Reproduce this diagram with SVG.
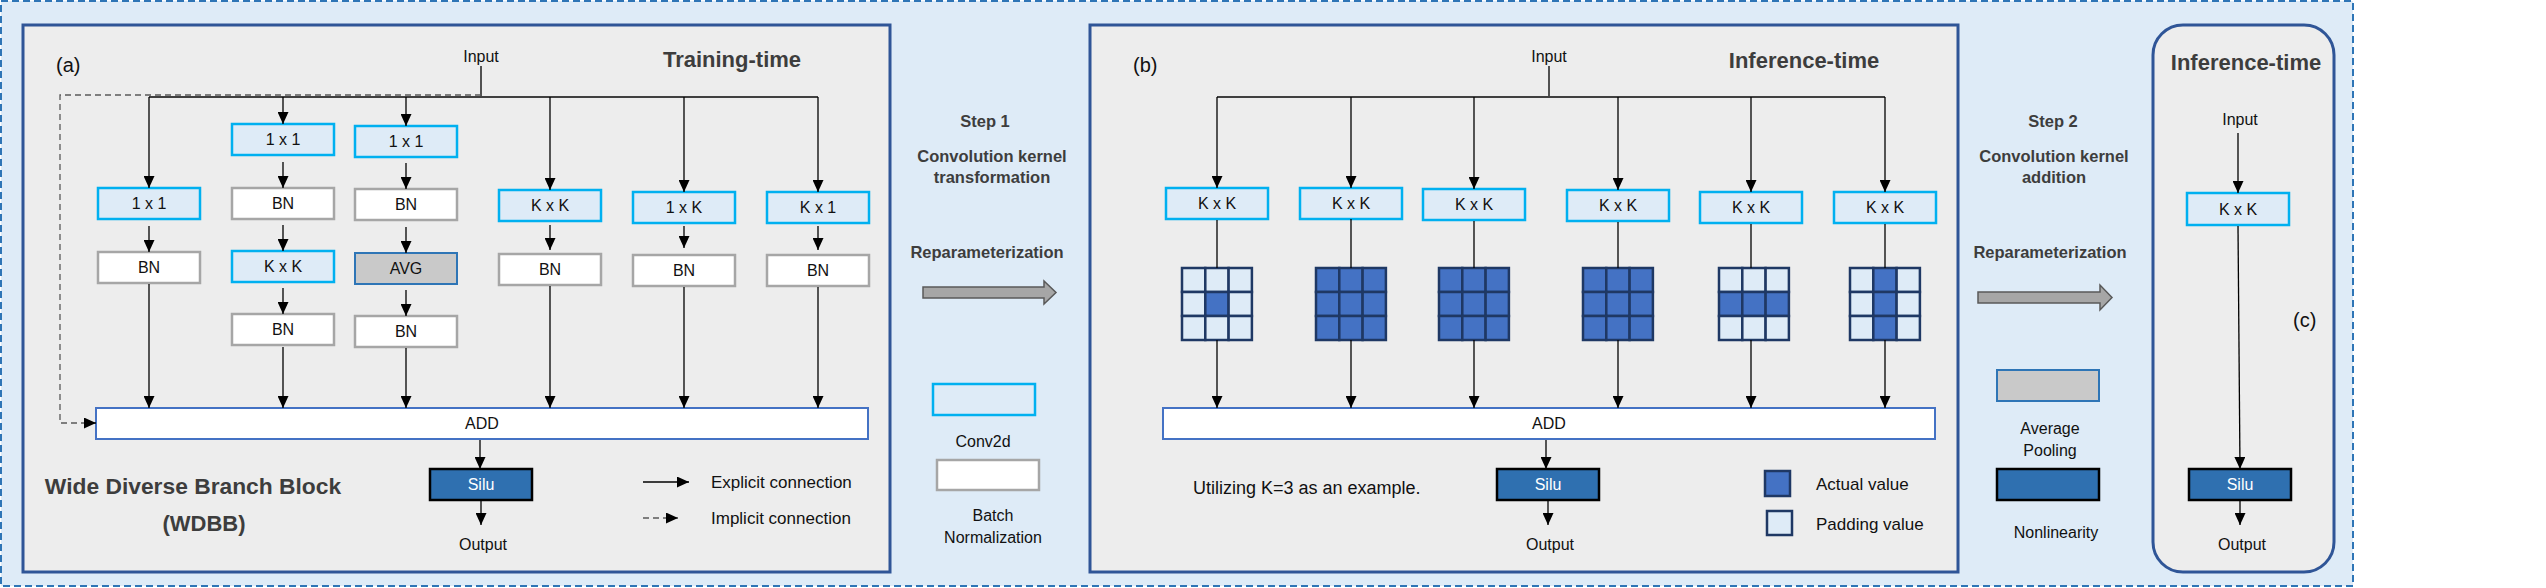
<svg xmlns="http://www.w3.org/2000/svg" width="2546" height="588" viewBox="0 0 2546 588">
<defs>
<marker id="ah" markerWidth="12" markerHeight="11" refX="12" refY="5.5" orient="auto" markerUnits="userSpaceOnUse" viewBox="0 0 12 11"><path d="M0,0 L12,5.5 L0,11 z" fill="#000"/></marker>
<style>
text{font-family:"Liberation Sans",Arial,sans-serif;fill:#111;}
.t{font-size:16px;text-anchor:middle;dominant-baseline:central;}
.n{font-size:16px;text-anchor:middle;}
.l{font-size:17px;}
.title{font-size:22px;font-weight:bold;fill:#3d3d3d;text-anchor:middle;}
.step{font-size:16.5px;font-weight:bold;fill:#3d3d3d;text-anchor:middle;}
.lab{font-size:20px;fill:#111;}
.panel{fill:#ededed;stroke:#2f5597;stroke-width:3;}
.conv{fill:#deebf7;stroke:#00b0f0;stroke-width:2.5;}
.bn{fill:#fff;stroke:#a6a6a6;stroke-width:2.5;}
.avg{fill:#c9c9c9;stroke:#2e75b6;stroke-width:2;}
.add{fill:#fff;stroke:#4472c4;stroke-width:2;}
.silu{fill:#2f70b0;stroke:#000;stroke-width:2.5;}
.silut{font-size:16px;fill:#fff;text-anchor:middle;dominant-baseline:central;}
.dk{fill:#4472c4;stroke:#1f3864;stroke-width:2.5;}
.lt{fill:#deebf7;stroke:#1f3864;stroke-width:2.5;}
.c{fill:none;stroke:#000;stroke-width:1.3;}
.ca{fill:none;stroke:#000;stroke-width:1.3;marker-end:url(#ah);}
.bus{fill:none;stroke:#404040;stroke-width:1.8;}
.dash{fill:none;stroke:#595959;stroke-width:1.3;stroke-dasharray:6 4;}
.garrow{fill:#a6a6a6;stroke:#595959;stroke-width:1.5;}
</style>
</defs>

<rect id="background" x="1" y="1" width="2352" height="585" fill="#deebf7" stroke="#2e75b6" stroke-width="2" stroke-dasharray="7 4"/>

<!-- Panel (a) -->
<g id="panel-a">
<rect class="panel" x="23" y="25" width="867" height="547"/>
<text class="lab" x="56" y="72">(a)</text>
<text class="title" x="732" y="67">Training-time</text>
<text class="n" x="481" y="62">Input</text>
<text class="title" x="193" y="494" style="font-size:22.8px">Wide Diverse Branch Block</text>
<text class="title" x="204" y="531">(WDBB)</text>
</g>

<g id="a-b1-conv"><rect class="conv" x="98" y="188" width="102" height="31"/><text class="t" x="149" y="203.5">1 x 1</text></g>
<g id="a-b1-bn"><rect class="bn" x="98" y="252" width="102" height="31"/><text class="t" x="149" y="267.5">BN</text></g>

<g id="a-b2-conv1"><rect class="conv" x="232" y="124" width="102" height="31"/><text class="t" x="283" y="139.5">1 x 1</text></g>
<g id="a-b2-bn1"><rect class="bn" x="232" y="188" width="102" height="31"/><text class="t" x="283" y="203.5">BN</text></g>
<g id="a-b2-conv2"><rect class="conv" x="232" y="251" width="102" height="31"/><text class="t" x="283" y="266.5">K x K</text></g>
<g id="a-b2-bn2"><rect class="bn" x="232" y="314" width="102" height="31"/><text class="t" x="283" y="329.5">BN</text></g>

<g id="a-b3-conv"><rect class="conv" x="355" y="126" width="102" height="31"/><text class="t" x="406" y="141.5">1 x 1</text></g>
<g id="a-b3-bn1"><rect class="bn" x="355" y="189" width="102" height="31"/><text class="t" x="406" y="204.5">BN</text></g>
<g id="a-b3-avg"><rect class="avg" x="355" y="253" width="102" height="31"/><text class="t" x="406" y="268.5">AVG</text></g>
<g id="a-b3-bn2"><rect class="bn" x="355" y="316" width="102" height="31"/><text class="t" x="406" y="331.5">BN</text></g>

<g id="a-b4-conv"><rect class="conv" x="499" y="190" width="102" height="31"/><text class="t" x="550" y="205.5">K x K</text></g>
<g id="a-b4-bn"><rect class="bn" x="499" y="254" width="102" height="31"/><text class="t" x="550" y="269.5">BN</text></g>

<g id="a-b5-conv"><rect class="conv" x="633" y="192" width="102" height="31"/><text class="t" x="684" y="207.5">1 x K</text></g>
<g id="a-b5-bn"><rect class="bn" x="633" y="255" width="102" height="31"/><text class="t" x="684" y="270.5">BN</text></g>

<g id="a-b6-conv"><rect class="conv" x="767" y="192" width="102" height="31"/><text class="t" x="818" y="207.5">K x 1</text></g>
<g id="a-b6-bn"><rect class="bn" x="767" y="255" width="102" height="31"/><text class="t" x="818" y="270.5">BN</text></g>

<g id="a-add"><rect class="add" x="96" y="408" width="772" height="31"/><text class="t" x="482" y="423.5">ADD</text></g>
<g id="a-silu"><rect class="silu" x="430" y="469" width="102" height="31"/><text class="silut" x="481" y="484.5">Silu</text></g>
<g id="a-output"><text class="n" x="483" y="550">Output</text></g>

<g id="a-legend">
<line class="ca" x1="643" y1="482" x2="689" y2="482"/>
<text class="l" x="711" y="488">Explicit connection</text>
<line class="dash" x1="643" y1="518" x2="678" y2="518" style="marker-end:url(#ah)"/>
<text class="l" x="711" y="524">Implicit connection</text>
</g>

<!-- Step 1 -->
<g id="step1">
<text class="step" x="985" y="127">Step 1</text>
<text class="step" x="992" y="162">Convolution kernel</text>
<text class="step" x="992" y="183">transformation</text>
<text class="step" x="987" y="258">Reparameterization</text>
<path class="garrow" d="M923,287 L1044,287 L1044,281 L1056,292.5 L1044,304 L1044,298 L923,298 Z"/>
</g>
<g id="legend-conv"><rect class="conv" x="933" y="384" width="102" height="31"/><text class="n" x="983" y="447">Conv2d</text></g>
<g id="legend-bn"><rect class="bn" x="937" y="460" width="102" height="30"/><text class="n" x="993" y="521">Batch</text><text class="n" x="993" y="543">Normalization</text></g>

<!-- Panel (b) -->
<g id="panel-b">
<rect class="panel" x="1090" y="25" width="868" height="547"/>
<text class="lab" x="1133" y="72">(b)</text>
<text class="title" x="1804" y="68">Inference-time</text>
<text class="n" x="1549" y="62">Input</text>
<text class="l" x="1193" y="494" style="font-size:18px">Utilizing K=3 as an example.</text>
</g>

<g id="b-conv1"><rect class="conv" x="1166" y="188" width="102" height="31"/><text class="t" x="1217" y="203.5">K x K</text></g>
<g id="b-conv2"><rect class="conv" x="1300" y="188" width="102" height="31"/><text class="t" x="1351" y="203.5">K x K</text></g>
<g id="b-conv3"><rect class="conv" x="1423" y="189" width="102" height="31"/><text class="t" x="1474" y="204.5">K x K</text></g>
<g id="b-conv4"><rect class="conv" x="1567" y="190" width="102" height="31"/><text class="t" x="1618" y="205.5">K x K</text></g>
<g id="b-conv5"><rect class="conv" x="1700" y="192" width="102" height="31"/><text class="t" x="1751" y="207.5">K x K</text></g>
<g id="b-conv6"><rect class="conv" x="1834" y="192" width="102" height="31"/><text class="t" x="1885" y="207.5">K x K</text></g>

<g id="b-grid1" transform="translate(1182,268)">
<rect class="lt" x="0" y="0" width="23.3" height="24"/><rect class="lt" x="23.3" y="0" width="23.3" height="24"/><rect class="lt" x="46.6" y="0" width="23.3" height="24"/>
<rect class="lt" x="0" y="24" width="23.3" height="24"/><rect class="dk" x="23.3" y="24" width="23.3" height="24"/><rect class="lt" x="46.6" y="24" width="23.3" height="24"/>
<rect class="lt" x="0" y="48" width="23.3" height="24"/><rect class="lt" x="23.3" y="48" width="23.3" height="24"/><rect class="lt" x="46.6" y="48" width="23.3" height="24"/>
</g>
<g id="b-grid2" transform="translate(1316,268)">
<rect class="dk" x="0" y="0" width="23.3" height="24"/><rect class="dk" x="23.3" y="0" width="23.3" height="24"/><rect class="dk" x="46.6" y="0" width="23.3" height="24"/>
<rect class="dk" x="0" y="24" width="23.3" height="24"/><rect class="dk" x="23.3" y="24" width="23.3" height="24"/><rect class="dk" x="46.6" y="24" width="23.3" height="24"/>
<rect class="dk" x="0" y="48" width="23.3" height="24"/><rect class="dk" x="23.3" y="48" width="23.3" height="24"/><rect class="dk" x="46.6" y="48" width="23.3" height="24"/>
</g>
<g id="b-grid3" transform="translate(1439,268)">
<rect class="dk" x="0" y="0" width="23.3" height="24"/><rect class="dk" x="23.3" y="0" width="23.3" height="24"/><rect class="dk" x="46.6" y="0" width="23.3" height="24"/>
<rect class="dk" x="0" y="24" width="23.3" height="24"/><rect class="dk" x="23.3" y="24" width="23.3" height="24"/><rect class="dk" x="46.6" y="24" width="23.3" height="24"/>
<rect class="dk" x="0" y="48" width="23.3" height="24"/><rect class="dk" x="23.3" y="48" width="23.3" height="24"/><rect class="dk" x="46.6" y="48" width="23.3" height="24"/>
</g>
<g id="b-grid4" transform="translate(1583,268)">
<rect class="dk" x="0" y="0" width="23.3" height="24"/><rect class="dk" x="23.3" y="0" width="23.3" height="24"/><rect class="dk" x="46.6" y="0" width="23.3" height="24"/>
<rect class="dk" x="0" y="24" width="23.3" height="24"/><rect class="dk" x="23.3" y="24" width="23.3" height="24"/><rect class="dk" x="46.6" y="24" width="23.3" height="24"/>
<rect class="dk" x="0" y="48" width="23.3" height="24"/><rect class="dk" x="23.3" y="48" width="23.3" height="24"/><rect class="dk" x="46.6" y="48" width="23.3" height="24"/>
</g>
<g id="b-grid5" transform="translate(1719,268)">
<rect class="lt" x="0" y="0" width="23.3" height="24"/><rect class="lt" x="23.3" y="0" width="23.3" height="24"/><rect class="lt" x="46.6" y="0" width="23.3" height="24"/>
<rect class="dk" x="0" y="24" width="23.3" height="24"/><rect class="dk" x="23.3" y="24" width="23.3" height="24"/><rect class="dk" x="46.6" y="24" width="23.3" height="24"/>
<rect class="lt" x="0" y="48" width="23.3" height="24"/><rect class="lt" x="23.3" y="48" width="23.3" height="24"/><rect class="lt" x="46.6" y="48" width="23.3" height="24"/>
</g>
<g id="b-grid6" transform="translate(1850,268)">
<rect class="lt" x="0" y="0" width="23.3" height="24"/><rect class="dk" x="23.3" y="0" width="23.3" height="24"/><rect class="lt" x="46.6" y="0" width="23.3" height="24"/>
<rect class="lt" x="0" y="24" width="23.3" height="24"/><rect class="dk" x="23.3" y="24" width="23.3" height="24"/><rect class="lt" x="46.6" y="24" width="23.3" height="24"/>
<rect class="lt" x="0" y="48" width="23.3" height="24"/><rect class="dk" x="23.3" y="48" width="23.3" height="24"/><rect class="lt" x="46.6" y="48" width="23.3" height="24"/>
</g>

<g id="b-add"><rect class="add" x="1163" y="408" width="772" height="31"/><text class="t" x="1549" y="423.5">ADD</text></g>
<g id="b-silu"><rect class="silu" x="1497" y="469" width="102" height="31"/><text class="silut" x="1548" y="484.5">Silu</text></g>
<g id="b-output"><text class="n" x="1550" y="550">Output</text></g>
<g id="b-legend">
<rect class="dk" x="1765" y="471" width="25" height="25"/>
<text class="l" x="1816" y="490">Actual value</text>
<rect class="lt" x="1767" y="511" width="25" height="24"/>
<text class="l" x="1816" y="530">Padding value</text>
</g>

<!-- Step 2 -->
<g id="step2">
<text class="step" x="2053" y="127">Step 2</text>
<text class="step" x="2054" y="162">Convolution kernel</text>
<text class="step" x="2054" y="183">addition</text>
<text class="step" x="2050" y="258">Reparameterization</text>
<path class="garrow" d="M1978,292 L2100,292 L2100,285 L2112,297.5 L2100,310 L2100,303 L1978,303 Z"/>
</g>
<g id="legend-avg"><rect class="avg" x="1997" y="370" width="102" height="31"/><text class="n" x="2050" y="434">Average</text><text class="n" x="2050" y="456">Pooling</text></g>
<g id="legend-silu"><rect class="silu" x="1997" y="469" width="102" height="31"/><text class="n" x="2056" y="538">Nonlinearity</text></g>

<!-- Panel (c) -->
<g id="panel-c">
<rect class="panel" x="2153" y="25" width="181" height="547" rx="30" ry="30"/>
<text class="title" x="2246" y="70">Inference-time</text>
<text class="n" x="2240" y="125">Input</text>
<text class="lab" x="2293" y="327">(c)</text>
</g>
<g id="c-conv"><rect class="conv" x="2187" y="193" width="102" height="32"/><text class="t" x="2238" y="209">K x K</text></g>
<g id="c-silu"><rect class="silu" x="2189" y="469" width="102" height="31"/><text class="silut" x="2240" y="484.5">Silu</text></g>
<g id="c-output"><text class="n" x="2242" y="550">Output</text></g>

<!-- Connectors -->
<g id="connectors">
<line class="bus" x1="481" y1="66" x2="481" y2="97"/>
<polyline class="bus" points="149,97 818,97"/>
<polyline class="dash" points="481,95 60,95 60,423 84,423"/>
<line class="ca" x1="84" y1="423" x2="96" y2="423"/>
<line class="ca" x1="149" y1="97" x2="149" y2="188"/>
<line class="ca" x1="283" y1="97" x2="283" y2="124"/>
<line class="ca" x1="406" y1="97" x2="406" y2="126"/>
<line class="ca" x1="550" y1="97" x2="550" y2="190"/>
<line class="ca" x1="684" y1="97" x2="684" y2="192"/>
<line class="ca" x1="818" y1="97" x2="818" y2="192"/>

<line class="ca" x1="149" y1="226" x2="149" y2="252"/>
<line class="ca" x1="283" y1="162" x2="283" y2="188"/>
<line class="ca" x1="283" y1="225" x2="283" y2="251"/>
<line class="ca" x1="283" y1="288" x2="283" y2="314"/>
<line class="ca" x1="406" y1="163" x2="406" y2="189"/>
<line class="ca" x1="406" y1="227" x2="406" y2="253"/>
<line class="ca" x1="406" y1="290" x2="406" y2="316"/>
<line class="ca" x1="550" y1="225" x2="550" y2="250"/>
<line class="ca" x1="684" y1="226" x2="684" y2="248"/>
<line class="ca" x1="818" y1="226" x2="818" y2="250"/>

<line class="ca" x1="149" y1="284" x2="149" y2="408"/>
<line class="ca" x1="283" y1="347" x2="283" y2="408"/>
<line class="ca" x1="406" y1="348" x2="406" y2="408"/>
<line class="ca" x1="550" y1="286" x2="550" y2="408"/>
<line class="ca" x1="684" y1="287" x2="684" y2="408"/>
<line class="ca" x1="818" y1="287" x2="818" y2="408"/>

<line class="ca" x1="480" y1="440" x2="480" y2="469"/>
<line class="ca" x1="481" y1="501" x2="481" y2="525"/>

<line class="bus" x1="1549" y1="66" x2="1549" y2="97"/>
<polyline class="bus" points="1217,97 1885,97"/>
<line class="ca" x1="1217" y1="97" x2="1217" y2="188"/>
<line class="ca" x1="1351" y1="97" x2="1351" y2="188"/>
<line class="ca" x1="1474" y1="97" x2="1474" y2="189"/>
<line class="ca" x1="1618" y1="97" x2="1618" y2="190"/>
<line class="ca" x1="1751" y1="97" x2="1751" y2="192"/>
<line class="ca" x1="1885" y1="97" x2="1885" y2="192"/>

<line class="c" x1="1217" y1="220" x2="1217" y2="268"/>
<line class="c" x1="1351" y1="219" x2="1351" y2="268"/>
<line class="c" x1="1474" y1="221" x2="1474" y2="268"/>
<line class="c" x1="1618" y1="222" x2="1618" y2="268"/>
<line class="c" x1="1751" y1="224" x2="1751" y2="268"/>
<line class="c" x1="1885" y1="224" x2="1885" y2="268"/>

<line class="ca" x1="1217" y1="340" x2="1217" y2="408"/>
<line class="ca" x1="1351" y1="340" x2="1351" y2="408"/>
<line class="ca" x1="1474" y1="340" x2="1474" y2="408"/>
<line class="ca" x1="1618" y1="340" x2="1618" y2="408"/>
<line class="ca" x1="1751" y1="340" x2="1751" y2="408"/>
<line class="ca" x1="1885" y1="340" x2="1885" y2="408"/>

<line class="ca" x1="1546" y1="440" x2="1546" y2="469"/>
<line class="ca" x1="1548" y1="501" x2="1548" y2="525"/>

<line class="ca" x1="2238" y1="133" x2="2238" y2="193"/>
<line class="ca" x1="2238" y1="226" x2="2240" y2="469"/>
<line class="ca" x1="2240" y1="501" x2="2240" y2="525"/>
</g>
</svg>
